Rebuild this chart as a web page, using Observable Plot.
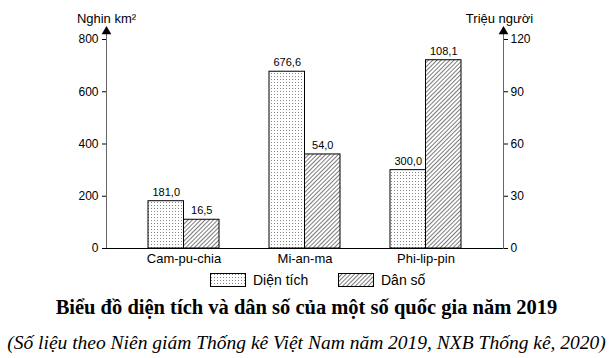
<!DOCTYPE html>
<html><head><meta charset="utf-8">
<script src="https://cdn.jsdelivr.net/npm/d3@7"></script>
<script src="https://cdn.jsdelivr.net/npm/@observablehq/plot@0.6"></script>
<style>
body{margin:0;background:#fff;width:613px;overflow:hidden}
#chart svg{display:block}
.legend{display:flex;justify-content:flex-start;align-items:center;height:24px;font:14px "Liberation Sans",Arial,sans-serif;color:#000;padding-left:210px}
.legend span{display:inline-flex;align-items:center}
.legend svg{margin-right:7px}
.title{font:bold 20.5px "Liberation Serif","Times New Roman",serif;text-align:center;margin-top:3px;height:24px;line-height:24px;white-space:nowrap}
.sub{font:italic 19.5px "Liberation Serif","Times New Roman",serif;text-align:center;margin-top:12px;height:24px;line-height:24px;white-space:nowrap}
</style>
</head><body>
<svg width="0" height="0" style="position:absolute">
<defs>
<pattern id="dots" patternUnits="userSpaceOnUse" width="3" height="3">
<rect width="3" height="3" fill="#fff"/>
<rect x="1" y="1" width="1" height="1" fill="#888"/>
</pattern>
<pattern id="hatch" patternUnits="userSpaceOnUse" width="3" height="3" patternTransform="rotate(45)">
<rect width="3" height="3" fill="#fff"/>
<line x1="0" y1="0" x2="0" y2="3" stroke="#333" stroke-width="1.3"/>
</pattern>
</defs>
</svg>
<div id="chart"></div>
<div class="legend">
<span style="width:128px"><svg width="36" height="14"><rect x="0.5" y="0.5" width="35" height="13" fill="url(#dots)" stroke="#000"/></svg>Diện tích</span>
<span><svg width="36" height="14"><rect x="0.5" y="0.5" width="35" height="13" fill="url(#hatch)" stroke="#000"/></svg>Dân số</span>
</div>
<div class="title">Biểu đồ diện tích và dân số của một số quốc gia năm 2019</div>
<div class="sub">(Số liệu theo Niên giám Thống kê Việt Nam năm 2019, NXB Thống kê, 2020)</div>
<script>
const countries = ["Cam-pu-chia", "Mi-an-ma", "Phi-lip-pin"];
const area = [181.0, 676.6, 300.0];        // nghìn km²
const population = [16.5, 54.0, 108.1];    // triệu người
const leftTicks = [0, 200, 400, 600, 800];
const rightTicks = [0, 30, 60, 90, 120];

const areaMax = 800, popMax = 120;
const toLeft = v => v / popMax * areaMax;
const fmt = v => v.toFixed(1).replace(".", ",");

const areaData = countries.map((c, i) => ({country: c, value: area[i]}));
const popData = countries.map((c, i) => ({country: c, value: population[i]}));

const half = 35.5;
const font = "Liberation Sans, Arial, sans-serif";

const chart = Plot.plot({
  width: 613,
  height: 268,
  marginLeft: 106,
  marginRight: 110,
  marginTop: 39,
  marginBottom: 20,
  style: {fontFamily: font, fontSize: "12px", color: "#000", background: "#fff"},
  x: {domain: countries, paddingInner: 0.416, paddingOuter: 0.342, label: null},
  y: {domain: [0, areaMax], label: null},
  marks: [
    Plot.barY(areaData, {x: "country", y: "value", fill: "url(#dots)", stroke: "#000", strokeWidth: 1, insetRight: half}),
    Plot.barY(popData, {x: "country", y: d => toLeft(d.value), fill: "url(#hatch)", stroke: "#000", strokeWidth: 1, insetLeft: half}),
    Plot.text(areaData, {x: "country", y: "value", text: d => fmt(d.value), dx: -half / 2, dy: -9, fontSize: 11}),
    Plot.text(popData, {x: "country", y: d => toLeft(d.value), text: d => fmt(d.value), dx: half / 2, dy: -9, fontSize: 11}),
    Plot.frame({anchor: "left", stroke: "#666", insetTop: -9}),
    Plot.frame({anchor: "right", stroke: "#666", insetTop: -9}),
    Plot.dot([0], {frameAnchor: "top-left", symbol: "triangle", r: 3.6, fill: "#000", stroke: "none", dy: -8}),
    Plot.dot([0], {frameAnchor: "top-right", symbol: "triangle", r: 3.6, fill: "#000", stroke: "none", dy: -8}),
    Plot.ruleY([0], {stroke: "#000", insetLeft: -3}),
    Plot.axisY({anchor: "left", ticks: leftTicks, tickSize: 4, tickPadding: 4, label: null, fontSize: 12}),
    Plot.axisY({anchor: "right", ticks: rightTicks.map(toLeft), tickFormat: v => String(Math.round(v / areaMax * popMax)), tickSize: 4, tickPadding: 3, label: null, fontSize: 12}),
    Plot.axisX({anchor: "bottom", tickSize: 0, tickPadding: 5, label: null, fontSize: 13}),
    Plot.text(["Nghin km²"], {frameAnchor: "top-left", text: d => d, textAnchor: "middle", dy: -26, fontSize: 13}),
    Plot.text(["Triệu người"], {frameAnchor: "top-right", text: d => d, textAnchor: "middle", dy: -26, dx: -4, fontSize: 13})
  ]
});
document.getElementById("chart").appendChild(chart);
</script>
</body></html>
